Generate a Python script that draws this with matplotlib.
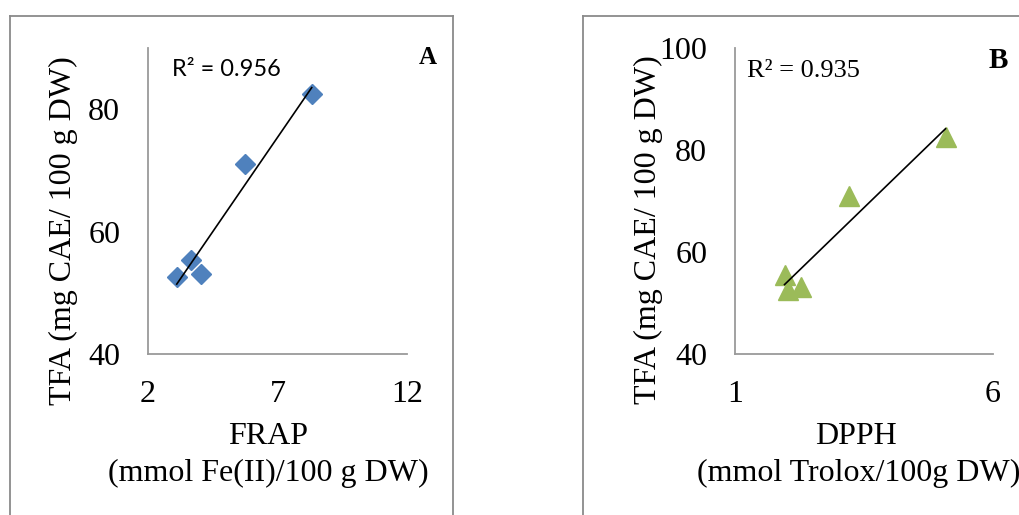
import matplotlib
matplotlib.use("Agg")
import matplotlib.pyplot as plt
import numpy as np
from matplotlib.lines import Line2D

# ---- data ----
frap_x = [3.11, 3.66, 4.06, 5.73, 8.32]
frap_y = [52.6, 55.4, 53.1, 71.0, 82.5]
dpph_x = [1.96, 2.02, 2.27, 3.21, 5.08]
dpph_y = [55.4, 52.5, 53.1, 71.0, 82.5]
r2_a = "R² = 0.956"
r2_b = "R² = 0.935"
xticks_a = [2, 7, 12]
yticks_a = [40, 60, 80]
xticks_b = [1, 6]
yticks_b = [40, 60, 80, 100]

W, H = 1019, 515
fig = plt.figure(figsize=(W / 100, H / 100), dpi=100)
serif = "Liberation Serif"
FS = 23

def fx(x):
    return x / W

def fy(y):
    return 1 - y / H

def frame(x0, x1, y0, y1):
    for xs, ys in [([x0, x1], [y0, y0]), ([x0, x0], [y0, y1]), ([x1, x1], [y0, y1]), ([x0, x1], [y1, y1])]:
        fig.add_artist(Line2D([fx(v) for v in xs], [fy(v) for v in ys], color="#8a8a8a", lw=1.3))

frame(10, 453, 16, 530)
frame(583, 1040, 16, 530)

def setup(ax, xlim, ylim, xt, yt):
    ax.set_xlim(*xlim)
    ax.set_ylim(*ylim)
    ax.set_xticks(xt)
    ax.set_yticks(yt)
    for s in ["top", "right"]:
        ax.spines[s].set_visible(False)
    for s in ["left", "bottom"]:
        ax.spines[s].set_color("#9a9a9a")
        ax.spines[s].set_linewidth(1.3)
    ax.tick_params(axis="y", length=0, labelsize=FS, pad=20)
    ax.tick_params(axis="x", length=0, labelsize=FS, pad=19)
    for lab in ax.get_xticklabels() + ax.get_yticklabels():
        lab.set_fontfamily(serif)
    ax.patch.set_alpha(0)

def trend(ax, x, y):
    x = np.asarray(x); y = np.asarray(y)
    m, b = np.polyfit(x, y, 1)
    xs = np.array([x.min(), x.max()])
    ax.plot(xs, m * xs + b, color="black", lw=1.2, zorder=3)

# Panel A
axA = fig.add_axes([148 / W, 1 - 354 / H, 259 / W, 306 / H])
setup(axA, (2, 12), (40, 90), xticks_a, yticks_a)
axA.plot(frap_x, frap_y, linestyle="none", marker="D", ms=10.5, color="#4F81BD", zorder=2)
trend(axA, frap_x, frap_y)
fig.text(fx(172), fy(69), r2_a, fontsize=17, family="Lato", va="center", ha="left")
fig.text(fx(428), fy(57), "A", fontsize=18, family=serif, weight="bold", va="center", ha="center")
fig.text(fx(268), fy(437), "FRAP", fontsize=FS, family=serif, ha="center", va="center")
fig.text(fx(268), fy(473), "(mmol Fe(II)/100 g DW)", fontsize=FS, family=serif, ha="center", va="center")
fig.text(fx(63), fy(231), "TFA (mg CAE/ 100 g DW)", fontsize=FS, family=serif, rotation=90, ha="center", va="center")

# Panel B
axB = fig.add_axes([735 / W, 1 - 354 / H, 258 / W, 306 / H])
setup(axB, (1, 6), (40, 100), xticks_b, yticks_b)
axB.plot(dpph_x, dpph_y, linestyle="none", marker="^", ms=14, color="#9BBB59", zorder=2)
trend(axB, dpph_x, dpph_y)
fig.text(fx(747), fy(71), r2_b, fontsize=19, family=serif, va="center", ha="left")
fig.text(fx(998), fy(61), "B", fontsize=21, family=serif, weight="bold", va="center", ha="center")
fig.text(fx(856), fy(437), "DPPH", fontsize=FS, family=serif, ha="center", va="center")
fig.text(fx(859), fy(473), "(mmol Trolox/100g DW)", fontsize=FS, family=serif, ha="center", va="center")
fig.text(fx(648), fy(230), "TFA (mg CAE/ 100 g DW)", fontsize=FS, family=serif, rotation=90, ha="center", va="center")

fig.savefig("out.png", dpi=100)
